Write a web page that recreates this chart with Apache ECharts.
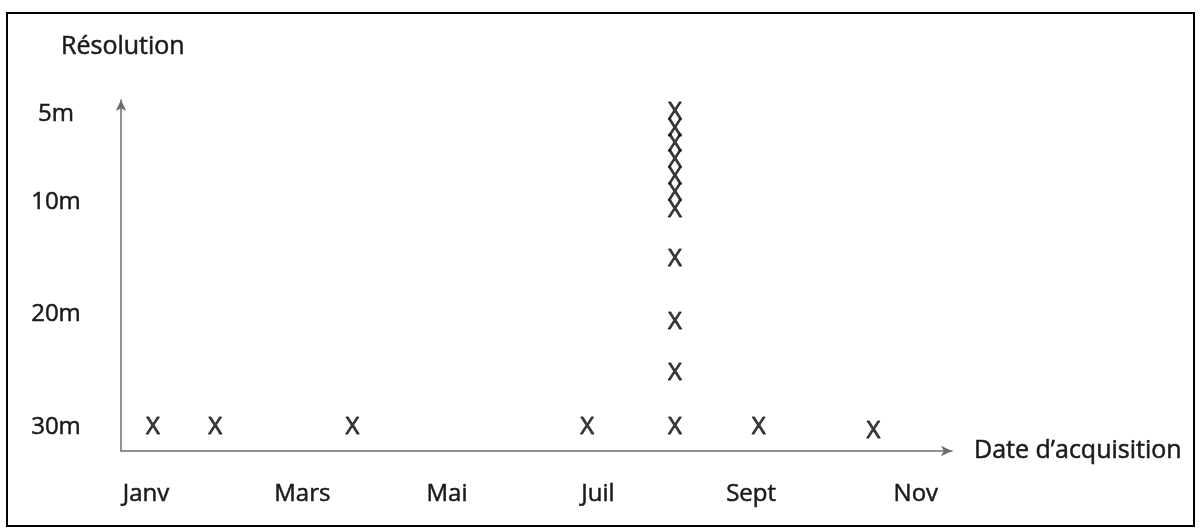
<!DOCTYPE html>
<html>
<head>
<meta charset="utf-8">
<script src="https://cdn.jsdelivr.net/npm/echarts@6/dist/echarts.min.js"></script>
<style>
  html, body { margin: 0; padding: 0; background: #ffffff; }
  #chart { width: 1201px; height: 532px; }
</style>
</head>
<body>
<div id="chart"></div>
<script>
// Tick labels and their positions on the axes
const xTickLabels = ['Janv', 'Mars', 'Mai', 'Juil', 'Sept', 'Nov'];
const xTickMonths = [1, 3.03, 4.91, 6.87, 8.86, 11];
const yTickLabels = ['30m', '20m', '10m', '5m'];
const yTickLevels = [0, 1, 1.99, 2.77];

// Acquisitions: date (month units) and resolution level
const acqMonths = [1.09, 1.90, 3.68, 6.73, 7.87, 8.96, 10.45,
                   7.87, 7.87, 7.87, 7.87, 7.87, 7.87, 7.87, 7.87, 7.87, 7.87];
const acqLevels = [0, 0, 0, 0, 0, 0, -0.04,
                   0.48, 0.93, 1.49, 1.92, 2.07, 2.21, 2.36, 2.50, 2.64, 2.79];

const FONT = '"Open Sans", "Liberation Sans", sans-serif';
const TXT = '#1a1a1a';
const txt = (size) => ({ fontFamily: FONT, fontSize: size, color: TXT,
                         textBorderColor: TXT, textBorderWidth: 0.5 });

const points = acqMonths.map((m, i) => [m, acqLevels[i]]);

const chart = echarts.init(document.getElementById('chart'), null, { renderer: 'canvas' });
chart.setOption({
  animation: false,
  backgroundColor: '#ffffff',
  title: {
    text: 'Résolution',
    left: 56,
    top: 29,
    textStyle: Object.assign(txt(25), { fontWeight: 'normal' })
  },
  grid: { left: 121, right: 249, top: 100, bottom: 81, containLabel: false, outerBoundsMode: 'none' },
  xAxis: {
    type: 'value',
    min: 0.675,
    max: 11.47,
    name: 'Date d’acquisition',
    nameLocation: 'end',
    nameGap: 22,
    nameTextStyle: Object.assign(txt(25), { padding: [0, 0, 22, 0] }),
    axisLine: { show: true, onZero: false, symbol: ['none', 'arrow'], symbolSize: [8, 11],
                lineStyle: { color: '#6e6e6e', width: 1.5 } },
    axisTick: { show: false },
    splitLine: { show: false },
    axisLabel: Object.assign({
      customValues: xTickMonths,
      formatter: (v) => { const i = xTickMonths.indexOf(v); return i >= 0 ? xTickLabels[i] : ''; },
      margin: 31
    }, txt(24))
  },
  yAxis: {
    type: 'value',
    min: -0.212,
    max: 2.894,
    axisLine: { show: true, onZero: false, symbol: ['none', 'arrow'], symbolSize: [8, 11],
                lineStyle: { color: '#6e6e6e', width: 1.5 } },
    axisTick: { show: false },
    splitLine: { show: false },
    axisLabel: Object.assign({
      customValues: yTickLevels,
      formatter: (v) => { const i = yTickLevels.indexOf(v); return i >= 0 ? yTickLabels[i] : ''; },
      align: 'center',
      margin: 65
    }, txt(24))
  },
  series: [{
    type: 'scatter',
    data: points,
    symbol: 'circle',
    symbolSize: 1,
    itemStyle: { color: 'transparent' },
    label: {
      show: true,
      position: 'inside',
      formatter: 'X',
      fontFamily: FONT,
      fontSize: 24,
      color: '#111111',
      textBorderColor: '#111111',
      textBorderWidth: 0.9
    }
  }],
  graphic: [{
    type: 'rect',
    shape: { x: 7, y: 13, width: 1187, height: 513 },
    style: { fill: 'none', stroke: '#000000', lineWidth: 2 },
    silent: true
  }]
});
</script>
</body>
</html>
